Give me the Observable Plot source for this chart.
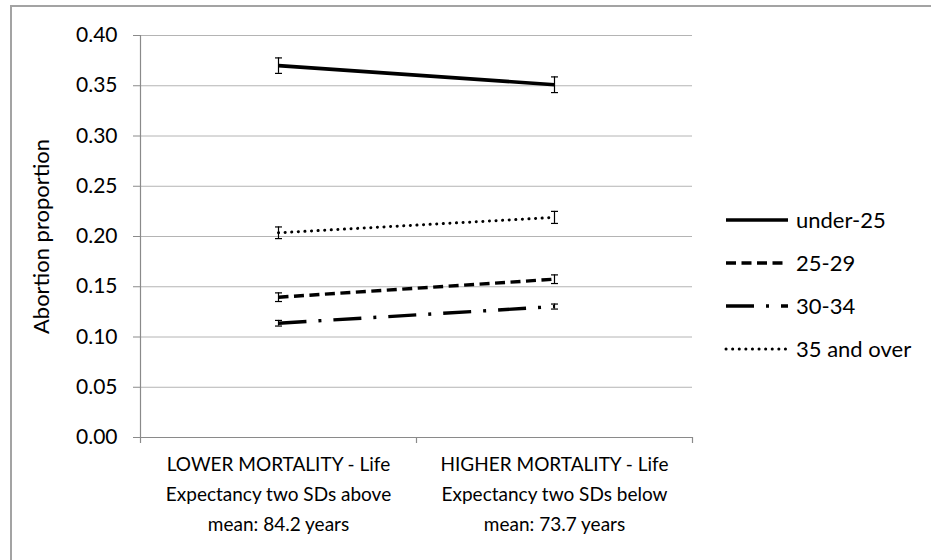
<!DOCTYPE html>
<html><head><meta charset="utf-8">
<script src="https://cdn.jsdelivr.net/npm/d3@7"></script>
<script src="https://cdn.jsdelivr.net/npm/@observablehq/plot@0.6"></script>
<style>
body{margin:0;background:#fff;}
#wrap{position:relative;width:931px;height:560px;overflow:hidden;font-family:Lato,sans-serif;background:#fff;}
#border{position:absolute;left:10px;top:5px;width:960px;height:600px;border:2px solid #a3a3a3;box-sizing:border-box;}
#chart{position:absolute;left:0;top:0;}
#legend{position:absolute;left:0;top:0;}
</style></head><body>
<div id="wrap"><div id="border"></div><div id="chart"></div><svg id="legend" width="931" height="560"></svg></div>
<script>
// ---- data ----
const categories = ["lower", "higher"];
const categoryLabels = [
  "LOWER MORTALITY - Life\nExpectancy two SDs above\nmean: 84.2 years",
  "HIGHER MORTALITY - Life\nExpectancy two SDs below\nmean: 73.7 years"
];
const seriesNames = ["under-25", "25-29", "30-34", "35 and over"];
const under25 = [0.370, 0.351];
const age25to29 = [0.1396, 0.1575];
const age30to34 = [0.1137, 0.1303];
const age35plus = [0.2037, 0.219];
const under25Err = [0.0077, 0.0078];
const age25to29Err = [0.0043, 0.0043];
const age30to34Err = [0.0028, 0.0025];
const age35plusErr = [0.0058, 0.006];
const yTicks = [0, 0.05, 0.10, 0.15, 0.20, 0.25, 0.30, 0.35, 0.40];

// ---- build rows ----
const seriesValues = [under25, age25to29, age30to34, age35plus];
const seriesErrors = [under25Err, age25to29Err, age30to34Err, age35plusErr];
const rows = [];
seriesNames.forEach((s, si) => categories.forEach((c, ci) => rows.push({
  series: s, cat: c, value: seriesValues[si][ci], err: seriesErrors[si][ci]
})));

const styles = {
  "under-25": {strokeWidth: 3.6, strokeDasharray: null, strokeLinecap: "butt"},
  "25-29": {strokeWidth: 3.4, strokeDasharray: "10,5.5", strokeLinecap: "butt"},
  "30-34": {strokeWidth: 3.4, strokeDasharray: "28,12,3,12", strokeLinecap: "butt"},
  "35 and over": {strokeWidth: 3, strokeDasharray: "0.1,6.5", strokeLinecap: "round"}
};

const W = 931, H = 560, mL = 140, mR = 239, mT = 35, mB = 123;
const bw = (W - mL - mR) / categories.length;
const gridColor = "#b4b4b4", axisColor = "#8a8a8a";

const capSymbol = {
  draw(ctx, size) {
    const r = Math.sqrt(size / Math.PI);
    ctx.moveTo(-r, 0); ctx.lineTo(r, 0);
  }
};

const lineMarks = seriesNames.map(s => Plot.line(rows.filter(d => d.series === s), {
  x: "cat", y: "value", stroke: "black",
  strokeWidth: styles[s].strokeWidth,
  strokeDasharray: styles[s].strokeDasharray,
  strokeLinecap: styles[s].strokeLinecap
}));

const chart = Plot.plot({
  width: W, height: H,
  marginLeft: mL, marginRight: mR, marginTop: mT, marginBottom: mB,
  style: {fontFamily: "Lato, sans-serif", fontSize: "21px", color: "black", background: "transparent"},
  x: {type: "band", domain: categories, paddingInner: 0, paddingOuter: 0},
  y: {domain: [0, 0.4]},
  marks: [
    Plot.gridY(yTicks.filter(t => t > 0), {stroke: gridColor, strokeOpacity: 1, strokeWidth: 1}),
    Plot.ruleY([0], {stroke: axisColor, strokeWidth: 1.2}),
    Plot.ruleX([categories[0]], {x: d => d, dx: -bw / 2, y1: 0, y2: 0.4, stroke: axisColor, strokeWidth: 1.2}),
    Plot.ruleX(categories, {x: d => d, dx: -bw / 2, y1: 0, y2: 0, insetBottom: -6, stroke: axisColor, strokeWidth: 1.2}),
    Plot.ruleX([categories[categories.length - 1]], {x: d => d, dx: bw / 2, y1: 0, y2: 0, insetBottom: -6, stroke: axisColor, strokeWidth: 1.2}),
    Plot.axisY({
      ticks: yTicks, tickFormat: d3.format(".2f"), tickSize: 7, tickPadding: 16,
      stroke: axisColor, fill: "black", fontSize: 21,
      label: null
    }),
    Plot.axisY({
      ticks: [], tickSize: 0,
      label: "Abortion proportion", labelAnchor: "center", labelOffset: 107, labelArrow: "none",
      fill: "black", fontSize: 22
    }),
    Plot.axisX({
      tickSize: 0, tickPadding: 12, lineHeight: 1.58, fill: "black", fontSize: 19,
      tickFormat: d => categoryLabels[categories.indexOf(d)], label: null
    }),
    ...lineMarks,
    Plot.ruleX(rows, {x: "cat", y1: d => d.value - d.err, y2: d => d.value + d.err, stroke: "black", strokeWidth: 1.2}),
    Plot.dot(rows, {x: "cat", y: d => d.value - d.err, symbol: capSymbol, r: 3.5, fill: "none", stroke: "black", strokeWidth: 1.2}),
    Plot.dot(rows, {x: "cat", y: d => d.value + d.err, symbol: capSymbol, r: 3.5, fill: "none", stroke: "black", strokeWidth: 1.2})
  ]
});
document.getElementById("chart").appendChild(chart);

// ---- legend (right side) ----
const legend = d3.select("#legend");
const legendTop = 220, legendStep = 43, lx1 = 726, lx2 = 788, tx = 796;
seriesNames.forEach((s, i) => {
  const y = legendTop + i * legendStep;
  legend.append("line")
    .attr("x1", lx1).attr("x2", lx2).attr("y1", y).attr("y2", y)
    .attr("stroke", "black")
    .attr("stroke-width", styles[s].strokeWidth)
    .attr("stroke-dasharray", styles[s].strokeDasharray)
    .attr("stroke-linecap", styles[s].strokeLinecap);
  legend.append("text")
    .attr("x", tx).attr("y", y).attr("dy", "0.35em")
    .attr("font-family", "Lato, sans-serif").attr("font-size", 22)
    .text(s);
});
</script>
</body></html>
